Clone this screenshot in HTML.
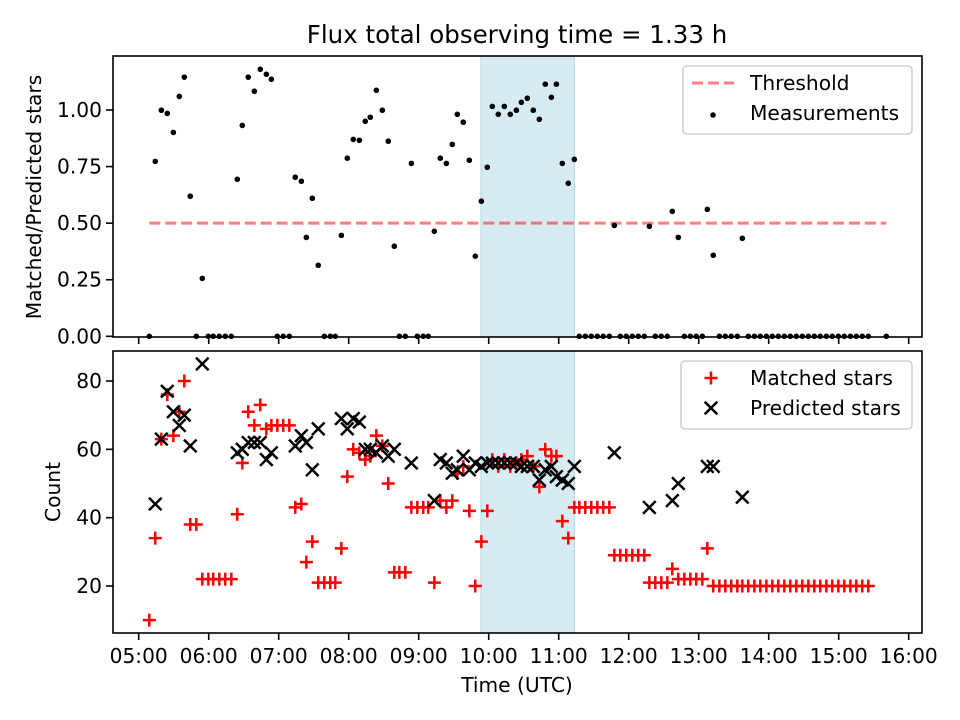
<!DOCTYPE html>
<html><head><meta charset="utf-8"><style>
html,body{margin:0;padding:0;background:#fff}
svg{display:block;font-family:"DejaVu Sans","Liberation Sans",sans-serif}
</style></head><body>
<svg id="fig" width="960" height="720" viewBox="0 0 960 720" xmlns="http://www.w3.org/2000/svg">
<rect width="960" height="720" fill="#fff"/>
<text x="517" y="43" font-size="24.5" text-anchor="middle" fill="#000">Flux total observing time = 1.33 h</text>
<g id="top"></g>
<g id="bot"></g>
<text transform="translate(41,197) rotate(-90)" font-size="20.2" text-anchor="middle">Matched/Predicted stars</text>
<text transform="translate(60,492) rotate(-90)" font-size="20.2" text-anchor="middle">Count</text>
<text x="517" y="692" font-size="20.2" text-anchor="middle">Time (UTC)</text>
</svg>
<script>
const times=[9.1,14.2,19.4,24.5,29.7,34.8,39.1,44.2,49.4,54.5,59.7,63.9,69.1,74.2,79.4,84.5,88.8,93.9,99.1,104.2,109.4,113.7,118.8,123.9,129.1,134.2,139.4,143.7,148.8,153.9,159.1,164.2,168.5,173.7,178.8,183.9,189.1,194.2,198.5,203.7,208.8,213.9,219.1,223.4,228.5,233.7,238.8,243.9,248.2,253.4,258.5,263.7,268.8,273.1,278.2,283.4,288.5,293.7,298.8,303.1,308.2,313.4,318.5,323.7,328.0,333.1,338.2,343.4,348.5,353.7,358.0,363.1,368.2,373.4,377.7,382.8,387.9,393.1,398.2,403.4,407.7,412.8,417.9,423.1,428.2,433.4,437.7,442.8,447.9,453.1,457.4,462.5,467.7,472.8,477.9,483.1,487.4,492.5,497.7,502.8,507.9,513.1,517.4,522.5,527.7,532.8,538.0,543.1,548.2,553.4,558.5,563.7,568.8,574.0,579.1,584.2,589.4,594.5,599.7,604.8,610.0,615.1,620.2,625.4,640.8];
const ratio=[0,0.773,0.999,0.985,0.901,1.06,1.145,0.619,0,0.256,0,0,0,0,0,0.694,0.932,1.145,1.083,1.18,1.158,1.136,0,0,0,0.703,0.685,0.437,0.61,0.314,0,0,0,0.446,0.787,0.870,0.866,0.950,0.968,1.087,0.999,0.862,0.398,0,0,0.764,0,0,0,0.464,0.787,0.764,0.848,0.981,0.946,0.778,0.354,0.597,0.747,1.016,0.981,1.016,0.981,0.999,1.034,1.052,0.999,0.959,1.114,1.056,1.114,0.764,0.676,0.782,0,0,0,0,0,0,0.490,0,0,0,0,0,0.486,0,0,0,0.552,0.437,0,0,0,0,0.561,0.358,0,0,0,0,0.433,0,0,0,0,0,0,0,0,0,0,0,0,0,0,0,0,0,0,0,0,0,0];
const matched=[10,34,63,76,64,71,80,38,38,22,22,22,22,22,22,41,56,71,67,73,66,67,67,67,67,43,44,27,33,21,21,21,21,31,52,60,59,57,58,64,61,50,24,24,24,43,43,43,43,21,45,43,45,53,55,42,20,33,42,57,55,57,55,56,57,58,55,49,60,58,58,39,34,43,43,43,43,43,43,43,29,29,29,29,29,29,21,21,21,21,25,22,22,22,22,22,31,20,20,20,20,20,20,20,20,20,20,20,20,20,20,20,20,20,20,20,20,20,20,20,20,20,20,20];
const predicted=[null,44,63,77,71,67,70,61,null,85,null,null,null,null,null,59,60,62,62,62,57,59,null,null,null,61,64,62,54,66,null,null,null,69,66,69,68,60,60,59,61,58,60,null,null,56,null,null,null,45,57,56,53,54,58,54,56,55,56,56,56,56,56,56,55,55,55,51,54,55,52,51,50,55,null,null,null,null,null,null,59,null,null,null,null,null,43,null,null,null,45,50,null,null,null,null,55,55,null,null,null,null,46,null,null,null,null,null,null,null,null,null,null,null,null,null,null,null,null,null,null,null,null,null,null];
const xTickLabels=["05:00","06:00","07:00","08:00","09:00","10:00","11:00","12:00","13:00","14:00","15:00","16:00"];
const xTickMinutes=[0,60,120,180,240,300,360,420,480,540,600,660];
const topTicks=[0,0.25,0.5,0.75,1.0];
const topTickLabels=["0.00","0.25","0.50","0.75","1.00"];
const botTicks=[20,40,60,80];
const threshold=[0.5];
const thresholdSpan=[9.1,640.8];
const shadeSpan=[293.4,373.4];

const NS="http://www.w3.org/2000/svg";
const L=113,R=922;
const FS=20.2;
const X=m=>138.7+m*70/60;
const Yt=v=>336.3-v*226.3;
const Yb=v=>586-(v-20)*205/60;
function mk(tag,attrs,parent){const e=document.createElementNS(NS,tag);for(const k in attrs)e.setAttribute(k,attrs[k]);parent.appendChild(e);return e;}

function panel(g,top,bot){
  const s=mk('rect',{x:X(shadeSpan[0]),y:top,width:X(shadeSpan[1])-X(shadeSpan[0]),height:bot-top,fill:'#add8e6','fill-opacity':0.5,stroke:'#add8e6','stroke-width':1},g);
  
  
  xTickMinutes.forEach((m,i)=>{
    const t=mk('line',{x1:X(m),x2:X(m),y1:bot,y2:bot+7,stroke:'#000','stroke-width':1.6},g);
    
    
  });
}
const gt=document.getElementById('top'), gb=document.getElementById('bot');
panel(gt,56,337);
panel(gb,351,633);

topTicks.forEach((v,i)=>{
  const t=mk('line',{x1:L-7,x2:L,y1:Yt(v),y2:Yt(v),stroke:'#000','stroke-width':1.6},gt);
  
  
  const tx=mk('text',{x:L-11,y:Yt(v)+7,'font-size':FS,'text-anchor':'end'},gt);
  tx.textContent=topTickLabels[i];
  
  
});
const th=mk('line',{x1:X(thresholdSpan[0]),x2:X(thresholdSpan[1]),y1:Yt(threshold[0]),y2:Yt(threshold[0]),stroke:'#ff0000','stroke-opacity':0.5,'stroke-width':3,'stroke-dasharray':'11.1,4.8'},gt);


times.forEach((t,i)=>{
  const c=mk('circle',{cx:X(t),cy:Yt(ratio[i]),r:2.8,fill:'#000'},gt);
  
  
});
mk('rect',{x:L,y:56,width:R-L,height:281,fill:'none',stroke:'#000','stroke-width':1.6},gt);

botTicks.forEach(v=>{
  const t=mk('line',{x1:L-7,x2:L,y1:Yb(v),y2:Yb(v),stroke:'#000','stroke-width':1.6},gb);
  
  
  const tx=mk('text',{x:L-11,y:Yb(v)+7,'font-size':FS,'text-anchor':'end'},gb);
  tx.textContent=String(v);
  
  
});
xTickMinutes.forEach((m,i)=>{
  const tx=mk('text',{x:X(m),y:663,'font-size':FS,'text-anchor':'middle'},gb);
  tx.textContent=xTickLabels[i];
  
  
});
times.forEach((t,i)=>{
  const x=X(t),y=Yb(matched[i]);
  const p=mk('path',{d:`M${x-6.5},${y}H${x+6.5}M${x},${y-6.5}V${y+6.5}`,stroke:'#ff0000','stroke-width':2.5,fill:'none'},gb);
  
  
});
times.forEach((t,i)=>{
  if(predicted[i]===null)return;
  const x=X(t),y=Yb(predicted[i]),d=6.3;
  const p=mk('path',{d:`M${x-d},${y-d}L${x+d},${y+d}M${x-d},${y+d}L${x+d},${y-d}`,stroke:'#000','stroke-width':2.5,fill:'none'},gb);
  
  
});
mk('rect',{x:L,y:351,width:R-L,height:282,fill:'none',stroke:'#000','stroke-width':1.6},gb);

function legend(g,x,y,w,h,items){
  const lg=mk('g',{},g);
  
  
  mk('rect',{x:x,y:y,width:w,height:h,rx:4,fill:'#fff','fill-opacity':0.8,stroke:'#d0d0d0','stroke-width':1.6},lg);
  items.forEach((it,i)=>{
    const cy=y+17+i*30;
    const e=mk('g',{},lg);
    
    
    it.draw(e,x+30,cy);
    const tx=mk('text',{x:750,y:cy+7,'font-size':FS},e);
    tx.textContent=it.label;
  });
}
legend(gt,683,66,229,68,[
  {label:'Threshold',draw:(e,cx,cy)=>mk('line',{x1:cx-21,x2:cx+21,y1:cy,y2:cy,stroke:'#ff0000','stroke-opacity':0.5,'stroke-width':3,'stroke-dasharray':'11.1,4.8'},e)},
  {label:'Measurements',draw:(e,cx,cy)=>mk('circle',{cx:cx,cy:cy+2,r:2.8,fill:'#000'},e)}
]);
legend(gb,681,361,231,68,[
  {label:'Matched stars',draw:(e,cx,cy)=>mk('path',{d:`M${cx-6.5},${cy}H${cx+6.5}M${cx},${cy-6.5}V${cy+6.5}`,stroke:'#ff0000','stroke-width':2.5},e)},
  {label:'Predicted stars',draw:(e,cx,cy)=>mk('path',{d:`M${cx-6.3},${cy-6.3}L${cx+6.3},${cy+6.3}M${cx-6.3},${cy+6.3}L${cx+6.3},${cy-6.3}`,stroke:'#000','stroke-width':2.5},e)}
]);
</script>
</body></html>
